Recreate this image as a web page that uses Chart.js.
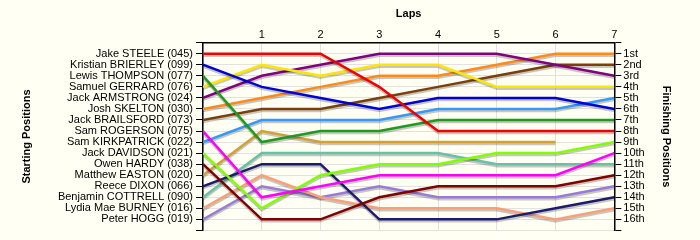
<!DOCTYPE html>
<html>
<head>
<meta charset="utf-8">
<script src="https://cdn.jsdelivr.net/npm/chart.js@4/dist/chart.umd.min.js"></script>
<style>
  html, body { margin: 0; padding: 0; background: #fffff3; }
  #wrap { width: 700px; height: 240px; }
</style>
</head>
<body>
<div id="wrap"><canvas id="c"></canvas></div>
<script>
const laps = [0, 1, 2, 3, 4, 5, 6, 7];
const riders = [
  "Jake STEELE (045)", "Kristian BRIERLEY (099)", "Lewis THOMPSON (077)", "Samuel GERRARD (076)",
  "Jack ARMSTRONG (024)", "Josh SKELTON (030)", "Jack BRAILSFORD (073)", "Sam ROGERSON (075)",
  "Sam KIRKPATRICK (022)", "Jack DAVIDSON (021)", "Owen HARDY (038)", "Matthew EASTON (020)",
  "Reece DIXON (066)", "Benjamin COTTRELL (090)", "Lydia Mae BURNEY (016)", "Peter HOGG (019)"
];
const finishLabels = ["1st","2nd","3rd","4th","5th","6th","7th","8th","9th","10th","11th","12th","13th","14th","15th","16th"];

const steele     = [1, 1, 1, 4, 8, 8, 8, 8];
const brierley   = [2, 4, 5, 6, 5, 5, 5, 6];
const thompson   = [3, 9, 8, 8, 7, 7, 7, 7];
const gerrard    = [4, 2, 3, 2, 2, 4, 4, 4];
const armstrong  = [5, 3, 2, 1, 1, 1, 2, 3];
const skelton    = [6, 5, 4, 3, 3, 2, 1, 1];
const brailsford = [7, 6, 6, 5, 4, 3, 2, 2];
const rogerson   = [8, 14, 13, 12, 12, 12, 12, 10];
const kirkpatrick= [9, 7, 7, 7, 6, 6, 6, 5];
const davidson   = [10, 15, 12, 11, 11, 10, 10, 9];
const hardy      = [11, 16, 16, 14, 13, 13, 13, 12];
const easton     = [12, 8, 9, 9, 9, 9, 9, null];
const dixon      = [13, 11, 11, 16, 16, 16, 15, 14];
const cottrell   = [14, 10, 10, 10, 10, 11, 11, 11];
const burney     = [15, 12, 14, 15, 15, 15, 16, 15];
const hogg       = [16, 13, 14, 13, 14, 14, 14, 13];

const series = [steele, brierley, thompson, gerrard, armstrong, skelton, brailsford, rogerson,
  kirkpatrick, davidson, hardy, easton, dixon, cottrell, burney, hogg];
const colors = ["#f00000", "#0000d8", "#1f9a1f", "#ffe600", "#800080", "#ff8a1a", "#7a3f0a", "#ff00ff",
  "#3399ff", "#80ff00", "#800000", "#d4a030", "#1c1c6e", "#66c2a5", "#f8a07c", "#9a7ad8"];

const datasets = series.map((s, i) => ({
  label: riders[i],
  data: laps.map((l, j) => ({ x: l, y: s[j] })),
  borderColor: colors[i],
  backgroundColor: colors[i],
  borderWidth: 2.5,
  pointRadius: 0,
  tension: 0,
  fill: false,
  spanGaps: false,
  yAxisID: 'y'
}));

const shadowPlugin = {
  id: 'shadow',
  beforeDatasetsDraw(chart) {
    const ctx = chart.ctx;
    ctx.save();
    ctx.shadowColor = 'rgba(0,0,0,0.22)';
    ctx.shadowOffsetX = 0;
    ctx.shadowOffsetY = 2;
    ctx.shadowBlur = 0;
  },
  afterDatasetsDraw(chart) { chart.ctx.restore(); }
};

const bgPlugin = {
  id: 'bg',
  beforeDraw(chart) {
    const ctx = chart.ctx;
    ctx.save();
    ctx.fillStyle = '#fffff3';
    ctx.fillRect(0, 0, chart.width, chart.height);
    ctx.restore();
  }
};

const FONT = { family: "'Liberation Sans', Arial, sans-serif", size: 11 };
const TFONT = { family: "'Liberation Sans', Arial, sans-serif", size: 11, weight: 'bold' };

new Chart(document.getElementById('c'), {
  type: 'line',
  data: { datasets },
  plugins: [bgPlugin, shadowPlugin],
  options: {
    responsive: true,
    maintainAspectRatio: false,
    animation: false,
    layout: { padding: { left: 20.4, right: 27.4, top: 7.4, bottom: 6.1 } },
    plugins: { legend: { display: false }, tooltip: { enabled: false } },
    scales: {
      x: {
        type: 'linear', position: 'top', min: 0, max: 7,
        ticks: { stepSize: 1, color: '#000', font: FONT, padding: 1,
                 callback: v => (v === 0 ? '' : String(v)) },
        grid: { color: '#e2e2e2', drawTicks: false, lineWidth: 1 },
        border: { display: true, color: '#000', width: 1.5 },
        title: { display: true, text: 'Laps', color: '#000', font: TFONT, padding: 0 },
        afterFit(scale) { scale.height = 35.3; }
      },
      y: {
        type: 'linear', position: 'left', min: 0, max: 17, reverse: true,
        afterBuildTicks(scale) { scale.ticks = Array.from({length: 18}, (_, i) => ({ value: i })); },
        ticks: { color: '#000', font: FONT, padding: 3, autoSkip: false,
                 callback: v => riders[v - 1] || '' },
        grid: { color: '#e2e2e2', tickColor: '#000', tickLength: 7, lineWidth: 1 },
        border: { display: true, color: '#000', width: 1.5 },
        title: { display: true, text: 'Starting Positions', color: '#000', font: TFONT, padding: 0 },
        afterFit(scale) { scale.width = 182.6; }
      },
      y2: {
        type: 'linear', position: 'right', min: 0, max: 17, reverse: true,
        afterBuildTicks(scale) { scale.ticks = Array.from({length: 18}, (_, i) => ({ value: i })); },
        ticks: { color: '#000', font: FONT, padding: 2, autoSkip: false,
                 callback: v => finishLabels[v - 1] || '' },
        grid: { drawOnChartArea: false, tickColor: '#000', tickLength: 7 },
        border: { display: true, color: '#000', width: 1.5 },
        title: { display: true, text: 'Finishing Positions', color: '#000', font: TFONT, padding: 0 },
        afterFit(scale) { scale.width = 58.3; }
      }
    }
  }
});
</script>
</body>
</html>
